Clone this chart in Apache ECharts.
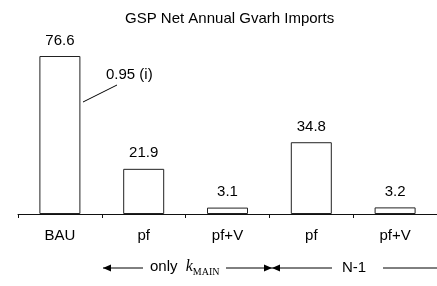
<!DOCTYPE html>
<html>
<head>
<meta charset="utf-8">
<script src="https://cdn.jsdelivr.net/npm/echarts@6/dist/echarts.min.js"></script>
<style>
  html, body { margin: 0; padding: 0; background: #fff; }
  #chart { width: 437px; height: 286px; }
</style>
</head>
<body>
<div id="chart"></div>
<script>
// categories along the x axis
const categories = ["BAU", "pf", "pf+V", "pf", "pf+V"];
// Gvarh net annual imports
const imports = [76.6, 21.9, 3.1, 34.8, 3.2];
const titleText = "GSP Net Annual Gvarh Imports";
const noteText = "0.95 (i)";

const font = "Liberation Sans, Arial, sans-serif";
const ink = "#000";

let myChart = echarts.init(document.getElementById("chart"), null, { renderer: "canvas" });

// small helper: horizontal arrow as line + filled head
function arrow(x1, x2, y, headAt) {
    let parts = [{
        type: "line",
        shape: { x1: x1, y1: y, x2: x2, y2: y },
        style: { stroke: ink, lineWidth: 1 }
    }];
    headAt.forEach(function (h) {
        let tip = h === "left" ? x1 : x2;
        let dir = h === "left" ? 1 : -1;
        parts.push({
            type: "polygon",
            shape: { points: [[tip, y], [tip + dir * 8, y - 3.5], [tip + dir * 8, y + 3.5]] },
            style: { fill: ink }
        });
    });
    return parts;
}

let option = {
    animation: false,
    backgroundColor: "#fff",
    title: {
        text: titleText,
        left: 120,
        top: 6,
        textStyle: { fontFamily: font, fontSize: 15, fontWeight: "normal", color: ink }
    },
    grid: { left: 18, right: -6, top: 49, bottom: 72, containLabel: false },
    xAxis: {
        type: "category",
        data: categories,
        axisLine: { lineStyle: { color: "#111", width: 1 } },
        axisTick: { show: true, length: 4, lineStyle: { color: "#111" } },
        axisLabel: { margin: 14, fontFamily: font, fontSize: 15, color: ink }
    },
    yAxis: {
        type: "value",
        min: 0,
        max: 80,
        show: false,
        splitLine: { show: false }
    },
    series: [{
        type: "bar",
        data: imports,
        barWidth: 41,
        itemStyle: { color: "#fff", borderColor: "#222", borderWidth: 1 },
        label: {
            show: true,
            position: "top",
            distance: 8,
            fontFamily: font,
            fontSize: 15,
            color: ink
        }
    }],
    graphic: [
        {
            type: "line",
            shape: { x1: 83, y1: 102, x2: 117, y2: 85 },
            style: { stroke: ink, lineWidth: 1 }
        },
        {
            type: "text",
            left: 106,
            top: 67,
            style: { text: noteText, fontFamily: font, fontSize: 15, fill: ink }
        },
        ...arrow(103, 143, 268, ["left"]),
        {
            type: "text",
            left: 150,
            top: 259,
            style: {
                text: "only {k|k}{s|MAIN}",
                fontFamily: font,
                fontSize: 15,
                fill: ink,
                rich: {
                    k: { fontFamily: "Liberation Serif, serif", fontStyle: "italic", fontSize: 16, fill: ink, padding: [0, 0, 0, 4] },
                    s: { fontFamily: "Liberation Serif, serif", fontSize: 10, fill: ink, padding: [10, 0, 0, 0] }
                }
            }
        },
        ...arrow(226, 272, 268, ["right"]),
        ...arrow(272, 332, 268, ["left"]),
        {
            type: "text",
            left: 342,
            top: 260,
            style: { text: "N-1", fontFamily: font, fontSize: 15, fill: ink }
        },
        ...arrow(383, 446, 268, ["right"])
    ]
};

myChart.setOption(option);
</script>
</body>
</html>
